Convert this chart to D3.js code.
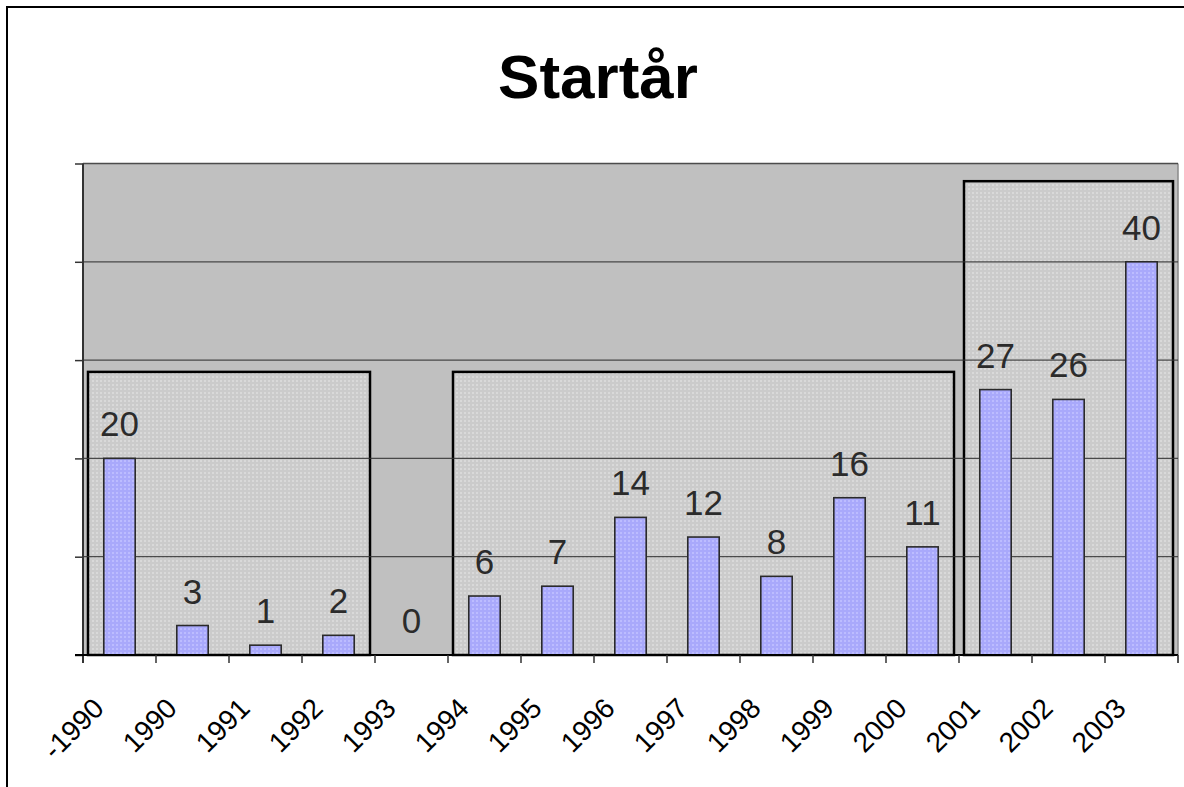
<!DOCTYPE html>
<html lang="sv">
  <head>
    <meta charset="UTF-8">
    <script src="https://cdn.jsdelivr.net/npm/d3@7"></script>
    <title>Startår</title>
    <style>
      body { margin: 0; background: #fff; }
      svg { display: block; }
    </style>
  </head>
  <body>
    <script>
      let w = 1184;
      let h = 787;

      // Data
      let years  = ['-1990', '1990', '1991', '1992', '1993', '1994', '1995', '1996',
                    '1997', '1998', '1999', '2000', '2001', '2002', '2003'];
      let counts = [20, 3, 1, 2, 0, 6, 7, 14, 12, 8, 16, 11, 27, 26, 40];
      let yTicks = [0, 10, 20, 30, 40, 50];
      // grouping boxes: first year, last year, height in value units
      let groupFrom = ['-1990', '1994', '2001'];
      let groupTo   = ['1992', '2000', '2003'];
      let groupTop  = [28.8, 28.8, 48.2];

      let plot = { left: 83, right: 1178, top: 163.5, bottom: 655 };

      let xScale = d3.scaleBand()
                     .domain(years)
                     .range([plot.left, plot.right])
                     .padding(0);
      let yScale = d3.scaleLinear()
                     .domain([0, 50])
                     .range([plot.bottom, plot.top]);
      let barW = xScale.bandwidth() * 0.43;

      let svg = d3.select('body')
                  .append('svg')
                  .attr('width', w)
                  .attr('height', h);

      // textures
      let defs = svg.append('defs');
      let boxPat = defs.append('pattern')
                       .attr('id', 'boxTex')
                       .attr('width', 4).attr('height', 4)
                       .attr('patternUnits', 'userSpaceOnUse');
      boxPat.append('rect').attr('width', 4).attr('height', 4).attr('fill', '#cbcbcb');
      boxPat.append('rect').attr('width', 2).attr('height', 2).attr('fill', '#d9d9d9');
      let barPat = defs.append('pattern')
                       .attr('id', 'barTex')
                       .attr('width', 4).attr('height', 4)
                       .attr('patternUnits', 'userSpaceOnUse');
      barPat.append('rect').attr('width', 4).attr('height', 4).attr('fill', '#a9a9fb');
      barPat.append('rect').attr('width', 2).attr('height', 2).attr('fill', '#bcbcff');

      // outer frame
      svg.append('rect')
         .attr('x', 7).attr('y', 7)
         .attr('width', w + 20).attr('height', h + 20)
         .attr('fill', 'none')
         .attr('stroke', '#000')
         .attr('stroke-width', 2);

      // title
      svg.append('text')
         .text('Startår')
         .attr('x', 598)
         .attr('y', 98)
         .attr('text-anchor', 'middle')
         .attr('font-family', 'Liberation Sans, Arial, sans-serif')
         .attr('font-weight', 'bold')
         .attr('font-size', 62)
         .attr('fill', '#000');

      // plot background
      svg.append('rect')
         .attr('x', plot.left).attr('y', plot.top)
         .attr('width', plot.right - plot.left)
         .attr('height', plot.bottom - plot.top)
         .attr('fill', '#c0c0c0');
      svg.append('line')
         .attr('x1', plot.right).attr('x2', plot.right)
         .attr('y1', plot.top).attr('y2', plot.bottom + 8)
         .attr('stroke', '#8a8a8a')
         .attr('stroke-width', 1.5);

      // group boxes
      let inset = 5;
      svg.selectAll('rect.group')
         .data(groupFrom)
         .enter()
         .append('rect')
         .attr('class', 'group')
         .attr('x', d => xScale(d) + inset)
         .attr('y', (d, i) => yScale(groupTop[i]))
         .attr('width', (d, i) => xScale(groupTo[i]) + xScale.bandwidth() - inset - xScale(d) - inset)
         .attr('height', (d, i) => yScale(0) - yScale(groupTop[i]))
         .attr('fill', 'url(#boxTex)')
         .attr('stroke', '#000')
         .attr('stroke-width', 2.5);

      // gridlines
      svg.selectAll('line.grid')
         .data(yTicks.slice(1))
         .enter()
         .append('line')
         .attr('class', 'grid')
         .attr('x1', plot.left).attr('x2', plot.right)
         .attr('y1', d => yScale(d)).attr('y2', d => yScale(d))
         .attr('stroke', '#333')
         .attr('stroke-opacity', 0.85)
         .attr('stroke-width', 1.3);

      // bars
      svg.selectAll('rect.bar')
         .data(counts)
         .enter()
         .append('rect')
         .attr('class', 'bar')
         .attr('x', (d, i) => xScale(years[i]) + (xScale.bandwidth() - barW) / 2)
         .attr('y', d => yScale(d))
         .attr('width', barW)
         .attr('height', d => yScale(0) - yScale(d))
         .attr('fill', 'url(#barTex)')
         .attr('stroke', '#2a2a2a')
         .attr('stroke-width', d => d > 0 ? 1.6 : 0);

      // value labels
      svg.selectAll('text.val')
         .data(counts)
         .enter()
         .append('text')
         .attr('class', 'val')
         .text(d => d)
         .attr('x', (d, i) => xScale(years[i]) + xScale.bandwidth() / 2)
         .attr('y', d => yScale(d) - 22)
         .attr('text-anchor', 'middle')
         .attr('font-family', 'Liberation Sans, Arial, sans-serif')
         .attr('font-size', 35)
         .attr('fill', '#2b2b2b');

      // y axis (ticks only)
      svg.append('g')
         .attr('transform', `translate(${plot.left},0)`)
         .call(d3.axisLeft(yScale).tickValues(yTicks).tickSize(8).tickFormat(''))
         .call(g => g.select('.domain')
                     .attr('d', `M0,${plot.top}V${plot.bottom + 8}`)
                     .attr('stroke', '#333')
                     .attr('stroke-width', 2))
         .call(g => g.selectAll('.tick line').attr('stroke', '#333').attr('stroke-width', 1.5));

      // x axis: ticks at category boundaries
      let bounds = years.map(d => xScale(d)).concat([plot.right]);
      svg.append('line')
         .attr('x1', plot.left - 8).attr('x2', plot.right)
         .attr('y1', plot.bottom).attr('y2', plot.bottom)
         .attr('stroke', '#000')
         .attr('stroke-width', 2);
      svg.selectAll('line.xtick')
         .data(bounds.slice(1))
         .enter()
         .append('line')
         .attr('class', 'xtick')
         .attr('x1', d => d).attr('x2', d => d)
         .attr('y1', plot.bottom).attr('y2', plot.bottom + 8)
         .attr('stroke', '#333')
         .attr('stroke-width', 1.5);

      // x tick labels
      svg.selectAll('text.xlab')
         .data(years)
         .enter()
         .append('text')
         .attr('class', 'xlab')
         .text(d => d)
         .attr('transform', d => `translate(${xScale(d) + xScale.bandwidth() / 2 - 14},710) rotate(-45)`)
         .attr('text-anchor', 'end')
         .attr('font-family', 'Liberation Sans, Arial, sans-serif')
         .attr('font-size', 28)
         .attr('fill', '#000');
    </script>
  </body>
</html>
